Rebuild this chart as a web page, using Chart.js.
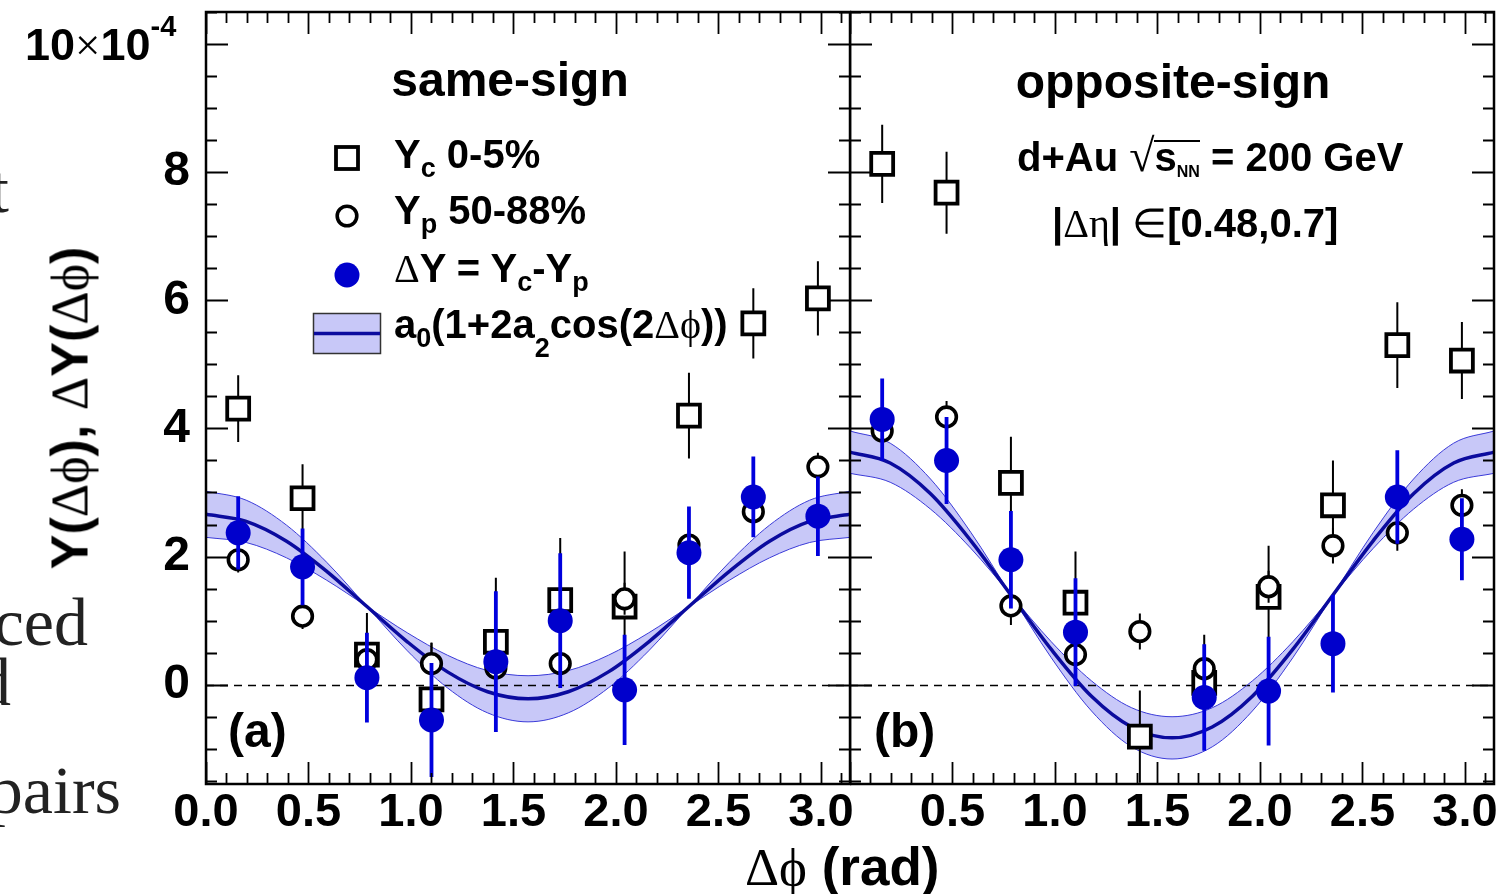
<!DOCTYPE html>
<html>
<head>
<meta charset="utf-8">
<title>Y(Δφ), ΔY(Δφ) – same-sign / opposite-sign</title>
<script src="https://cdn.jsdelivr.net/npm/chart.js@4.4.1/dist/chart.umd.min.js"></script>
<style>
html,body{margin:0;padding:0;background:#fff;}
#wrap{position:relative;width:1510px;height:894px;overflow:hidden;background:#fff;}
#wrap canvas{position:absolute;top:0;}
.t{position:absolute;white-space:nowrap;font-family:"Liberation Sans",Arial,sans-serif;font-weight:bold;color:#000;line-height:1;}
.s{font-family:"Liberation Serif","Times New Roman",serif;font-weight:normal;}
</style>
</head>
<body>
<div id="wrap">
  <canvas id="cA" width="870" height="894" style="left:0;width:870px;height:894px"></canvas>
  <canvas id="cB" width="660" height="894" style="left:850px;width:660px;height:894px"></canvas>
</div>
<script>
// ---------------- data (units of 10^-4) ----------------
const PHI = [0.157, 0.471, 0.785, 1.100, 1.414, 1.728, 2.042, 2.356, 2.670, 2.985];
const X_TICKS_A = [0.0, 0.5, 1.0, 1.5, 2.0, 2.5, 3.0];
const X_TICKS_B = [0.5, 1.0, 1.5, 2.0, 2.5, 3.0];
const Y_TICKS = [0, 2, 4, 6, 8];
const Y_MIN = -1.55, Y_MAX = 10.5;

// (a) same-sign
const ycSame     = [4.31, 2.91, 0.47, -0.23, 0.67, 1.32, 1.22, 4.20, 5.64, 6.03];
const ycSameErr  = [0.52, 0.53, 0.65, 0.88, 1.00, 0.97, 0.86, 0.67, 0.55, 0.58];
const ypSame     = [1.95, 1.07, 0.39, 0.33, 0.26, 0.33, 1.34, 2.18, 2.70, 3.40];
const ypSameErr  = [0.20, 0.20, 0.25, 0.33, 0.25, 0.25, 0.25, 0.25, 0.25, 0.22];
const dySame     = [2.37, 1.84, 0.11, -0.55, 0.36, 1.00, -0.08, 2.06, 2.93, 2.63];
const dySameErr  = [0.57, 0.60, 0.70, 0.89, 1.10, 1.05, 0.86, 0.72, 0.63, 0.62];

// (b) opposite-sign
const ycOpp      = [8.13, 7.68, 3.15, 1.28, -0.81, 0.03, 1.37, 2.80, 5.30, 5.06];
const ycOppErr   = [0.61, 0.64, 0.72, 0.80, 0.72, 0.75, 0.80, 0.70, 0.67, 0.60];
const ypOpp      = [3.96, 4.18, 1.23, 0.47, 0.83, 0.25, 1.53, 2.17, 2.37, 2.80];
const ypOppErr   = [0.25, 0.25, 0.30, 0.25, 0.28, 0.25, 0.25, 0.28, 0.28, 0.25];
const dyOpp      = [4.14, 3.50, 1.95, 0.82, null, -0.20, -0.10, 0.64, 2.93, 2.27];
const dyOppErr   = [0.64, 0.68, 0.76, 0.84, null, 0.83, 0.85, 0.76, 0.73, 0.64];

// fit a0(1+2a2cos(2Δφ)), with its error band edges
const FIT_X     = [0.000, 0.196, 0.393, 0.589, 0.785, 0.982, 1.178, 1.374, 1.571, 1.767, 1.963, 2.160, 2.356, 2.553, 2.749, 2.945, 3.142];
const fitSame   = [2.66, 2.55, 2.24, 1.77, 1.22, 0.67, 0.20, -0.11, -0.22, -0.11, 0.20, 0.67, 1.22, 1.77, 2.24, 2.55, 2.66];
const bandSameA = [3.02, 2.88, 2.49, 1.91, 1.22, 0.53, -0.05, -0.44, -0.58, -0.44, -0.05, 0.53, 1.22, 1.91, 2.49, 2.88, 3.02];
const bandSameB = [2.30, 2.22, 1.98, 1.63, 1.22, 0.81, 0.46, 0.22, 0.14, 0.22, 0.46, 0.81, 1.22, 1.63, 1.98, 2.22, 2.30];
const fitOpp    = [3.63, 3.46, 2.98, 2.25, 1.40, 0.55, -0.18, -0.66, -0.83, -0.66, -0.18, 0.55, 1.40, 2.25, 2.98, 3.46, 3.63];
const bandOppA  = [3.96, 3.77, 3.21, 2.38, 1.40, 0.42, -0.41, -0.97, -1.16, -0.97, -0.41, 0.42, 1.40, 2.38, 3.21, 3.77, 3.96];
const bandOppB  = [3.30, 3.16, 2.74, 2.13, 1.40, 0.67, 0.06, -0.36, -0.50, -0.36, 0.06, 0.67, 1.40, 2.13, 2.74, 3.16, 3.30];

// ---------------- styles ----------------
const BLUE = '#0000cc', BAND = '#c8c8f8', BAND_EDGE = '#3a3ad8', FIT = '#0b0b9e';
const FONT = '"Liberation Sans", Arial, sans-serif';
const PHI_CH = 'ϕ';

function pts(xs, ys) { return xs.map((x, i) => ({ x: x, y: ys[i] })); }

function buildDatasets(yc, ycE, yp, ypE, dy, dyE, fit, bA, bB) {
  return [
    { label: 'ΔY = Yc-Yp', data: pts(PHI, dy), errors: dyE, errColor: '#0000dd', errWidth: 3.8,
      showLine: false, pointStyle: 'circle', pointRadius: 12.5, pointBackgroundColor: BLUE,
      pointBorderColor: BLUE, pointBorderWidth: 0, order: 1 },
    { label: 'Yp 50-88%', data: pts(PHI, yp), errors: ypE, errColor: '#000', errWidth: 2,
      showLine: false, pointStyle: 'circle', pointRadius: 9.8, pointBackgroundColor: '#fff',
      pointBorderColor: '#000', pointBorderWidth: 3.6, order: 2 },
    { label: 'Yc 0-5%', data: pts(PHI, yc), errors: ycE, errColor: '#000', errWidth: 2,
      showLine: false, pointStyle: 'rect', pointRadius: 15.5, pointBackgroundColor: '#fff',
      pointBorderColor: '#000', pointBorderWidth: 3.8, order: 3 },
    { label: 'fit', data: pts(FIT_X, fit), showLine: true, borderColor: FIT, borderWidth: 3.5,
      pointRadius: 0, cubicInterpolationMode: 'monotone', fill: false, order: 4 },
    { label: 'band edge 1', data: pts(FIT_X, bA), showLine: true, borderColor: BAND_EDGE, borderWidth: 1,
      pointRadius: 0, cubicInterpolationMode: 'monotone', fill: '+1', backgroundColor: BAND, order: 5 },
    { label: 'band edge 2', data: pts(FIT_X, bB), showLine: true, borderColor: BAND_EDGE, borderWidth: 1,
      pointRadius: 0, cubicInterpolationMode: 'monotone', fill: false, order: 6 }
  ];
}

// error bars: drawn right before each dataset's own markers
const errorBars = {
  id: 'errorBars',
  beforeDatasetDraw(chart, args) {
    const ds = chart.data.datasets[args.index];
    if (!ds.errors) return;
    const { ctx, chartArea: a, scales: { x, y } } = chart;
    ctx.save();
    ctx.beginPath();
    ctx.rect(a.left, a.top, a.right - a.left, a.bottom - a.top);
    ctx.clip();
    ctx.strokeStyle = ds.errColor;
    ctx.lineWidth = ds.errWidth;
    ctx.beginPath();
    ds.data.forEach((p, i) => {
      const e = ds.errors[i];
      if (p.y === null || e === null || e === undefined) return;
      const px = x.getPixelForValue(p.x);
      ctx.moveTo(px, y.getPixelForValue(p.y + e));
      ctx.lineTo(px, y.getPixelForValue(p.y - e));
    });
    ctx.stroke();
    ctx.restore();
  }
};

// dashed zero line
const zeroLine = {
  id: 'zeroLine',
  beforeDatasetsDraw(chart) {
    const { ctx, chartArea: a, scales: { y } } = chart;
    const py = Math.round(y.getPixelForValue(0)) + 0.5;
    ctx.save();
    ctx.strokeStyle = '#000';
    ctx.lineWidth = 1.6;
    ctx.setLineDash([8, 6]);
    ctx.beginPath();
    ctx.moveTo(a.left, py);
    ctx.lineTo(a.right, py);
    ctx.stroke();
    ctx.restore();
  }
};

// ROOT-like frame with inward ticks on all four sides
const frameTicks = {
  id: 'frameTicks',
  afterDraw(chart) {
    const { ctx, chartArea: a, scales: { x, y } } = chart;
    ctx.save();
    ctx.strokeStyle = '#000';
    ctx.lineWidth = 1.8;
    ctx.beginPath();
    for (let i = 0; i <= 31; i++) {
      const px = Math.round(x.getPixelForValue(i / 10)) + 0.5;
      const len = (i % 5 === 0) ? 22 : 11;
      ctx.moveTo(px, a.bottom); ctx.lineTo(px, a.bottom - len);
      ctx.moveTo(px, a.top); ctx.lineTo(px, a.top + len);
    }
    for (let i = -3; i <= 21; i++) {
      const py = Math.round(y.getPixelForValue(i / 2)) + 0.5;
      const len = (i % 4 === 0) ? 22 : 11;
      ctx.moveTo(a.left, py); ctx.lineTo(a.left + len, py);
      ctx.moveTo(a.right, py); ctx.lineTo(a.right - len, py);
    }
    ctx.stroke();
    ctx.lineWidth = 2.5;
    ctx.strokeRect(a.left, a.top, a.right - a.left, a.bottom - a.top);
    ctx.restore();
  }
};

// legend symbols (panel a)
const legendMarks = {
  id: 'legendMarks',
  afterDraw(chart) {
    const ctx = chart.ctx;
    ctx.save();
    ctx.fillStyle = BAND;
    ctx.fillRect(313.5, 313.5, 67, 40);
    ctx.strokeStyle = '#333';
    ctx.lineWidth = 1.5;
    ctx.strokeRect(313.5, 313.5, 67, 40);
    ctx.strokeStyle = FIT;
    ctx.lineWidth = 3.5;
    ctx.beginPath(); ctx.moveTo(314, 333.5); ctx.lineTo(380, 333.5); ctx.stroke();
    ctx.strokeStyle = '#000';
    ctx.fillStyle = '#fff';
    ctx.lineWidth = 3.8;
    ctx.fillRect(336, 147, 22, 22);
    ctx.strokeRect(336, 147, 22, 22);
    ctx.lineWidth = 3.6;
    ctx.beginPath(); ctx.arc(347, 216, 9.8, 0, 2 * Math.PI); ctx.fill(); ctx.stroke();
    ctx.fillStyle = BLUE;
    ctx.beginPath(); ctx.arc(347, 275, 12.5, 0, 2 * Math.PI); ctx.fill();
    ctx.restore();
  }
};

function makeOptions(xTicks, showY, padRight) {
  return {
    responsive: false,
    animation: false,
    events: [],
    layout: { autoPadding: false, padding: { top: 12, right: padRight, left: 0, bottom: 0 } },
    plugins: { legend: { display: false }, tooltip: { enabled: false }, filler: { drawTime: 'beforeDatasetsDraw' } },
    scales: {
      x: {
        type: 'linear', min: 0, max: Math.PI,
        grid: { display: false, drawTicks: false }, border: { display: false },
        afterBuildTicks: s => { s.ticks = xTicks.map(v => ({ value: v })); },
        afterFit: s => { s.height = 110; s.paddingLeft = 0; s.paddingRight = 0; },
        ticks: { color: '#000', padding: 6, maxRotation: 0, autoSkip: false,
                 font: { family: FONT, size: 47, weight: 'bold', lineHeight: 1 },
                 callback: v => Number(v).toFixed(1) }
      },
      y: {
        type: 'linear', min: Y_MIN, max: Y_MAX, display: showY,
        grid: { display: false, drawTicks: false }, border: { display: false },
        afterBuildTicks: s => { s.ticks = Y_TICKS.map(v => ({ value: v })); },
        afterFit: s => { s.width = showY ? 206 : 0; s.paddingTop = 0; s.paddingBottom = 0; },
        ticks: { color: '#000', padding: 16,
                 font: { family: FONT, size: 48, weight: 'bold', lineHeight: 1 },
                 callback: v => String(v) }
      }
    }
  };
}

new Chart(document.getElementById('cA'), {
  type: 'scatter',
  data: { datasets: buildDatasets(ycSame, ycSameErr, ypSame, ypSameErr, dySame, dySameErr, fitSame, bandSameA, bandSameB) },
  options: makeOptions(X_TICKS_A, true, 20),
  plugins: [zeroLine, errorBars, frameTicks, legendMarks]
});

new Chart(document.getElementById('cB'), {
  type: 'scatter',
  data: { datasets: buildDatasets(ycOpp, ycOppErr, ypOpp, ypOppErr, dyOpp, dyOppErr, fitOpp, bandOppA, bandOppB) },
  options: makeOptions(X_TICKS_B, false, 16),
  plugins: [zeroLine, errorBars, frameTicks]
});

// ---------------- text ----------------
const wrap = document.getElementById('wrap');
function sym(t) { return '<span class="s">' + t + '</span>'; }
function sub(t, size, dy) { return '<span style="font-size:' + size + 'px;position:relative;top:' + dy + 'px">' + t + '</span>'; }
function addText(html, x, base, size, opt) {
  opt = opt || {};
  const d = document.createElement('div');
  d.className = 't' + (opt.serif ? ' s' : '');
  d.style.fontSize = size + 'px';
  const k = opt.serif ? 0.8375 : 0.8465;
  d.style.top = (base - k * size) + 'px';
  if (opt.align === 'center') { d.style.left = x + 'px'; d.style.transform = 'translateX(-50%)'; }
  else if (opt.align === 'right') { d.style.right = (1510 - x) + 'px'; d.style.textAlign = 'right'; }
  else { d.style.left = x + 'px'; }
  if (opt.color) d.style.color = opt.color;
  d.innerHTML = html;
  wrap.appendChild(d);
  return d;
}

// axis exponent label
addText('10' + sym('×') + '10' + sub('-4', 29, -24), 25, 60, 45);

// axis titles
addText(sym('Δ' + PHI_CH) + ' (rad)', 745, 885, 53);
const yt = document.createElement('div');
yt.className = 't';
yt.style.fontSize = '52px';
yt.style.left = '70px';
yt.style.top = '408px';
yt.style.transform = 'translate(-50%,-50%) rotate(-90deg)';
yt.innerHTML = 'Y(' + sym('Δ' + PHI_CH) + '), ' + sym('Δ') + 'Y(' + sym('Δ' + PHI_CH) + ')';
wrap.appendChild(yt);

// panel titles
addText('same-sign', 510, 97, 48, { align: 'center' });
addText('opposite-sign', 1173, 99, 48, { align: 'center' });
addText('(a)', 228, 748, 48);
addText('(b)', 874, 748, 48);

// legend
addText('Y' + sub('c', 27, 9) + ' 0-5%', 394, 168, 40);
addText('Y' + sub('p', 27, 9) + ' 50-88%', 394, 224, 40);
addText(sym('Δ') + 'Y = Y' + sub('c', 27, 9) + '-Y' + sub('p', 27, 9), 394, 282, 40);
addText('a' + sub('0', 27, 9) + '(1+2a' + sub('2', 27, 19) + 'cos(2' + sym('Δ' + PHI_CH) + '))', 394, 338, 40);

// collision info
addText('d+Au ' + '<span class="s" style="font-size:46px">√</span>' +
        '<span style="display:inline-block;line-height:30px;border-top:2px solid #000">s' + sub('NN', 16, 6) + '</span>' +
        ' = 200 GeV', 1017, 167, 40);
addText('|' + sym('Δη') + '| ' + sym('∈') + '[0.48,0.7]', 1052, 237, 40);

// fragments of surrounding page text cut by the figure edge
addText('t', 9, 212, 68, { serif: true, align: 'right', color: '#222' });
addText('produced', 88, 645, 68, { serif: true, align: 'right', color: '#222' });
addText('and', 11, 705, 68, { serif: true, align: 'right', color: '#222' });
addText('pairs', 121, 813, 68, { serif: true, align: 'right', color: '#222' });
</script>
</body>
</html>
